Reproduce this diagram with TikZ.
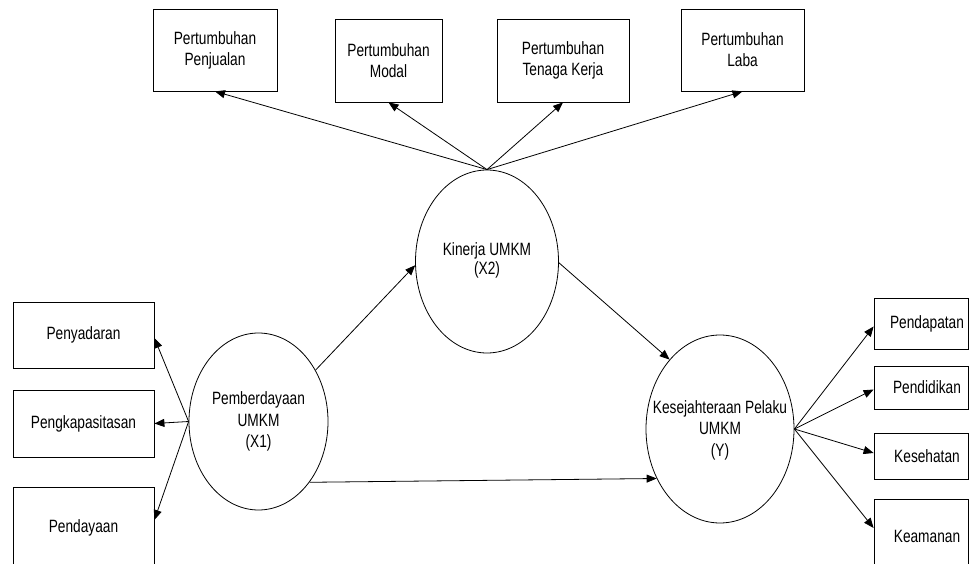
\documentclass[tikz,border=0pt]{standalone}
\usepackage{fontspec}
\setmainfont[FakeStretch=0.77]{Liberation Sans}
\usetikzlibrary{shapes.geometric,arrows.meta}
\begin{document}
\begin{tikzpicture}[x=1pt,y=-1pt,
  box/.style={draw,line width=0.8pt,rectangle,inner sep=0pt,align=center,font=\fontsize{17.8}{21}\selectfont},
  ell/.style={draw,line width=0.8pt,ellipse,inner sep=0pt},
  lbl/.style={align=center,inner sep=0pt,font=\fontsize{17.8}{21.5}\selectfont},
  arr/.style={line width=0.8pt,-{Triangle[length=10pt,width=8pt]}}]
\useasboundingbox (0,0) rectangle (969,564);
\clip (0,0) rectangle (969,564);
% top boxes
\node[box,minimum width=124pt,minimum height=82pt] (B1) at (215,50) {Pertumbuhan\\Penjualan};
\node[box,minimum width=107pt,minimum height=83pt] (B2) at (388.5,60.5) {Pertumbuhan\\Modal};
\node[box,minimum width=132pt,minimum height=83pt] (B3) at (563,60.5) {Pertumbuhan\\Tenaga Kerja};
\node[box,minimum width=123pt,minimum height=82pt] (B4) at (742.5,50) {Pertumbuhan\\Laba};
% left boxes
\node[box,minimum width=141pt,minimum height=66pt] (L1) at (83.5,335) {Penyadaran};
\node[box,minimum width=141pt,minimum height=67pt] (L2) at (83.5,423.5) {Pengkapasitasan};
\node[box,minimum width=141pt,minimum height=82pt] (L3) at (83.5,528) {Pendayaan};
% right boxes
\node[box,minimum width=94pt,minimum height=51pt] (R1) at (921,323.5) {\hspace*{12pt}Pendapatan};
\node[box,minimum width=94pt,minimum height=43pt] (R2) at (921,387.5) {\hspace*{12pt}Pendidikan};
\node[box,minimum width=94pt,minimum height=46pt] (R3) at (921,456) {\hspace*{12pt}Kesehatan};
\node[box,minimum width=94pt,minimum height=74pt] (R4) at (921,536) {\hspace*{12pt}Keamanan};
% ellipses
\node[ell,minimum width=139pt,minimum height=177pt] (X1) at (258.5,421.5) {};
\node[lbl] (X1t) at (258.5,421.5) {Pemberdayaan\\UMKM\\(X1)};
\node[ell,minimum width=143pt,minimum height=183pt] (X2) at (487,261.5) {};
\node[lbl,font=\fontsize{17.8}{19.5}\selectfont] (X2t) at (487,260.5) {Kinerja UMKM\\(X2)};
\node[ell,minimum width=148pt,minimum height=188pt] (Y) at (720,429) {};
\node[lbl] (Yt) at (720,430) {Kesejahteraan Pelaku\\UMKM\\(Y)};
% arrows
\draw[arr] (X2.north) -- (B1.south);
\draw[arr] (X2.north) -- (B2.south);
\draw[arr] (X2.north) -- (B3.south);
\draw[arr] (X2.north) -- (B4.south);
\draw[arr] (X1.42) -- (X2.183);
\draw[arr] (X2.359) -- (Y.126);
\draw[arr] (X1.310) -- (Y.218);
\draw[arr] (X1.west) -- ([yshift=-3pt]L1.east);
\draw[arr] (X1.west) -- (L2.east);
\draw[arr] (X1.west) -- ([yshift=8pt]L3.east);
\draw[arr] (Y.east) -- ([yshift=-3pt]R1.west);
\draw[arr] (Y.east) -- ([yshift=-2pt]R2.west);
\draw[arr] (Y.east) -- ([yshift=3pt]R3.west);
\draw[arr] (Y.east) -- ([yshift=8pt]R4.west);
\end{tikzpicture}
\end{document}
